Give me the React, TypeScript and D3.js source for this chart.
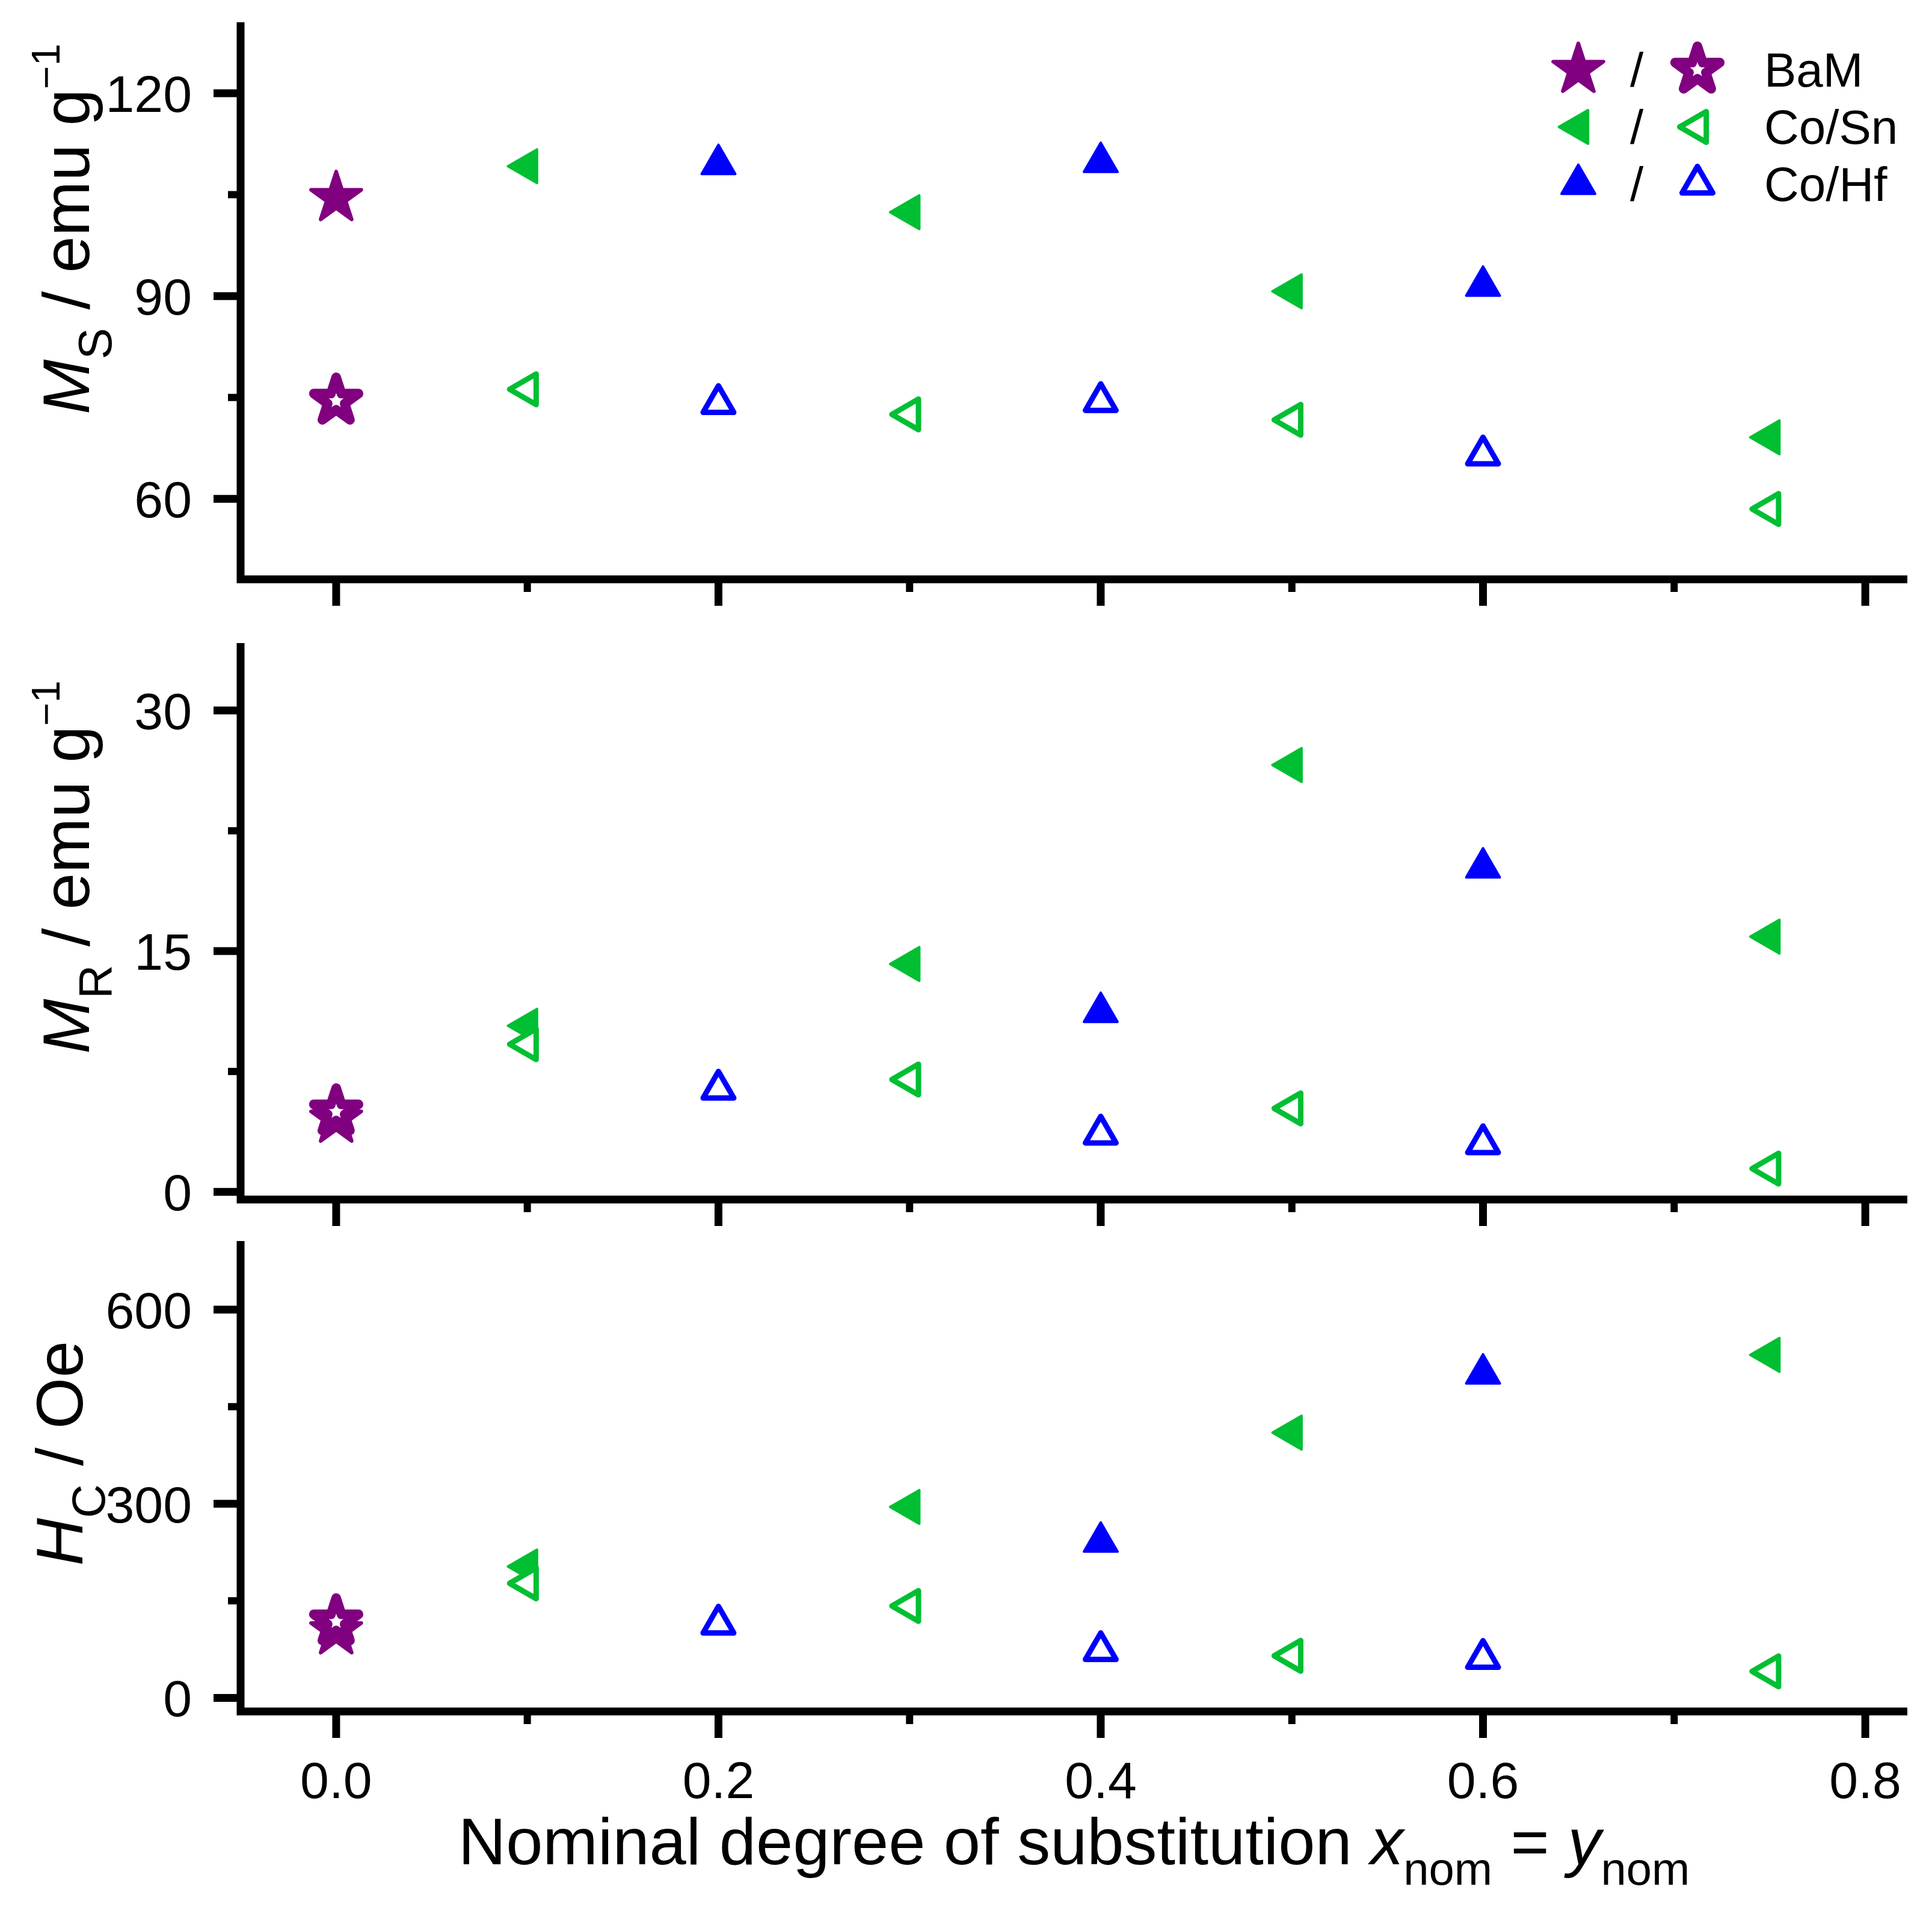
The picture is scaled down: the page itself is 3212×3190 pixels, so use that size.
import React from "react";
import * as d3 from "d3";

// ---------- data ----------
const xBaM = [0.0];
const xCoSn = [0.1, 0.3, 0.5, 0.75];
const xCoHf = [0.2, 0.4, 0.6];

// Saturation magnetisation Ms / emu g^-1
const msBaMFilled = [104.5];
const msBaMOpen = [74.5];
const msCoSnFilled = [109.2, 102.4, 90.7, 69.1];
const msCoSnOpen = [76.2, 72.5, 71.7, 58.5];
const msCoHfFilled = [109.5, 109.8, 91.5];
const msCoHfOpen = [74.1, 74.4, 66.5];

// Remanence Mr / emu g^-1
const mrBaMFilled = [4.5];
const mrBaMOpen = [5.0];
const mrCoSnFilled = [10.35, 14.2, 26.6, 15.9];
const mrCoSnOpen = [9.2, 7.0, 5.2, 1.45];
const mrCoHfFilled: (number | null)[] = [null, 11.2, 20.2];
const mrCoHfOpen = [6.4, 3.6, 3.0];

// Coercivity Hc / Oe
const hcBaMFilled = [103];
const hcBaMOpen = [118];
const hcCoSnFilled = [203, 295, 410, 530];
const hcCoSnOpen = [177, 142, 65, 41];
const hcCoHfFilled: (number | null)[] = [null, 241, 501];
const hcCoHfOpen = [114, 73, 61];

const xDomain = [-0.05, 0.822];
const xMajorTicks = [0, 0.2, 0.4, 0.6, 0.8];
const xMinorTicks = [0.1, 0.3, 0.5, 0.7];

const msDomain = [48.1, 130.5];
const msMajor = [60, 90, 120];
const msMinor = [75, 105];
const mrDomain = [-0.48, 34.2];
const mrMajor = [0, 15, 30];
const mrMinor = [7.5, 22.5];
const hcDomain = [-21, 706];
const hcMajor = [0, 300, 600];
const hcMinor = [150, 450];

const legendLabels = ["BaM", "Co/Sn", "Co/Hf"];

// ---------- styles ----------
const W = 3212;
const H = 3190;
const FONT = "'Liberation Sans', Arial, Helvetica, sans-serif";
const PURPLE = "#800080";
const GREEN = "#00BF33";
const BLUE = "#0000FF";
const AXW = 13;

const xLeft = 400;
const xRight = 3171;
const x = d3.scaleLinear().domain(xDomain).range([xLeft, xRight]);

// ---------- marker paths ----------
function starPath(R: number) {
  const pts: [number, number][] = [];
  for (let i = 0; i < 10; i++) {
    const a = (-90 + i * 36) * (Math.PI / 180);
    const r = i % 2 === 0 ? R : R * 0.382;
    pts.push([r * Math.cos(a), r * Math.sin(a)]);
  }
  return d3.line()(pts) + "Z";
}
function triUp(s: number) {
  const h = (s * Math.sqrt(3)) / 2;
  return `M0,${-(2 * h) / 3}L${s / 2},${h / 3}L${-s / 2},${h / 3}Z`;
}
function triLeft(s: number) {
  const h = (s * Math.sqrt(3)) / 2;
  return `M${-(2 * h) / 3},0L${h / 3},${-s / 2}L${h / 3},${s / 2}Z`;
}

type Kind = "star" | "left" | "up";
function Marker({ kind, filled, color, cx, cy }: { kind: Kind; filled: boolean; color: string; cx: number; cy: number }) {
  let d: string;
  let sw: number;
  if (kind === "star") {
    d = filled ? starPath(44) : starPath(39);
    sw = filled ? 6 : 16;
  } else {
    const s = filled ? 56 : 51;
    d = kind === "up" ? triUp(s) : triLeft(s);
    sw = filled ? 4 : 9;
  }
  return (
    <path
      d={d}
      transform={`translate(${cx},${cy})`}
      fill={filled ? color : "#ffffff"}
      stroke={color}
      strokeWidth={sw}
      strokeLinejoin="round"
    />
  );
}

type PanelProps = {
  top: number;
  bottom: number;
  domain: number[];
  major: number[];
  minor: number[];
  bam: [number[], number[]];
  cosn: [(number | null)[], (number | null)[]];
  cohf: [(number | null)[], (number | null)[]];
  showXLabels: boolean;
  title: React.ReactNode;
};

function Panel(p: PanelProps) {
  const y = d3.scaleLinear().domain(p.domain).range([p.bottom, p.top]);
  const pts = (xs: number[], ys: (number | null)[], kind: Kind, filled: boolean, color: string, key: string) =>
    xs.map((xv, i) =>
      ys[i] == null ? null : (
        <Marker key={key + i} kind={kind} filled={filled} color={color} cx={x(xv)} cy={y(ys[i] as number)} />
      )
    );
  return (
    <g>
      {/* ticks */}
      {p.major.map((t) => (
        <line key={"ym" + t} x1={xLeft - 45} x2={xLeft} y1={y(t)} y2={y(t)} stroke="#000" strokeWidth={AXW} />
      ))}
      {p.minor.map((t) => (
        <line key={"yn" + t} x1={xLeft - 21} x2={xLeft} y1={y(t)} y2={y(t)} stroke="#000" strokeWidth={12} />
      ))}
      {xMajorTicks.map((t) => (
        <line key={"xm" + t} x1={x(t)} x2={x(t)} y1={p.bottom} y2={p.bottom + 44} stroke="#000" strokeWidth={AXW} />
      ))}
      {xMinorTicks.map((t) => (
        <line key={"xn" + t} x1={x(t)} x2={x(t)} y1={p.bottom} y2={p.bottom + 21} stroke="#000" strokeWidth={12} />
      ))}
      {/* axes */}
      <path
        d={`M${xLeft},${p.top}V${p.bottom}H${xRight}`}
        fill="none"
        stroke="#000"
        strokeWidth={AXW}
        strokeLinejoin="miter"
        strokeLinecap="butt"
      />
      {/* tick labels */}
      {p.major.map((t) => (
        <text key={"yl" + t} x={319} y={y(t) + 31} fontSize={86} textAnchor="end" fontFamily={FONT}>
          {t}
        </text>
      ))}
      {p.showXLabels &&
        xMajorTicks.map((t) => (
          <text key={"xl" + t} x={x(t)} y={2989} fontSize={86} textAnchor="middle" fontFamily={FONT}>
            {t.toFixed(1)}
          </text>
        ))}
      {p.title}
      {/* filled markers */}
      {pts(xBaM, p.bam[0], "star", true, PURPLE, "bf")}
      {pts(xCoSn, p.cosn[0], "left", true, GREEN, "sf")}
      {pts(xCoHf, p.cohf[0], "up", true, BLUE, "hf")}
      {/* open markers */}
      {pts(xBaM, p.bam[1], "star", false, PURPLE, "bo")}
      {pts(xCoSn, p.cosn[1], "left", false, GREEN, "so")}
      {pts(xCoHf, p.cohf[1], "up", false, BLUE, "ho")}
    </g>
  );
}

function YTitle({ bx, by, main, sub, unit, sup }: { bx: number; by: number; main: string; sub: string; unit: string; sup?: string }) {
  return (
    <text transform={`translate(${bx},${by}) rotate(-90)`} fontFamily={FONT} fontSize={110} textAnchor="start">
      <tspan fontStyle="italic">{main}</tspan>
      <tspan fontSize={78} dy={37}>
        {sub}
      </tspan>
      <tspan dy={-37}>{unit}</tspan>
      {sup && (
        <tspan fontSize={66} dy={-49}>
          {sup}
        </tspan>
      )}
    </text>
  );
}

export default function App() {
  const legendY = [116, 211, 306];
  const legendKinds: Kind[] = ["star", "left", "up"];
  const legendColors = [PURPLE, GREEN, BLUE];
  return (
    <svg
      width={W}
      height={H}
      viewBox={`0 0 ${W} ${H}`}
      style={{ position: "absolute", left: 0, top: 0, background: "#fff" }}
    >
      <rect width={W} height={H} fill="#fff" />
      <Panel
        top={37}
        bottom={963}
        domain={msDomain}
        major={msMajor}
        minor={msMinor}
        bam={[msBaMFilled, msBaMOpen]}
        cosn={[msCoSnFilled, msCoSnOpen]}
        cohf={[msCoHfFilled, msCoHfOpen]}
        showXLabels={false}
        title={<YTitle bx={148} by={689} main="M" sub="S" unit=" / emu g" sup="−1" />}
      />
      <Panel
        top={1069}
        bottom={1994}
        domain={mrDomain}
        major={mrMajor}
        minor={mrMinor}
        bam={[mrBaMFilled, mrBaMOpen]}
        cosn={[mrCoSnFilled, mrCoSnOpen]}
        cohf={[mrCoHfFilled, mrCoHfOpen]}
        showXLabels={false}
        title={<YTitle bx={148} by={1752} main="M" sub="R" unit=" / emu g" sup="−1" />}
      />
      <Panel
        top={2063}
        bottom={2845}
        domain={hcDomain}
        major={hcMajor}
        minor={hcMinor}
        bam={[hcBaMFilled, hcBaMOpen]}
        cosn={[hcCoSnFilled, hcCoSnOpen]}
        cohf={[hcCoHfFilled, hcCoHfOpen]}
        showXLabels={true}
        title={<YTitle bx={137} by={2603} main="H" sub="C" unit=" / Oe" />}
      />
      {/* x axis title */}
      <text x={(xLeft + xRight) / 2} y={3099} fontSize={110} textAnchor="middle" fontFamily={FONT}>
        <tspan>Nominal degree of substitution </tspan>
        <tspan fontStyle="italic">x</tspan>
        <tspan fontSize={76} dy={34}>
          nom
        </tspan>
        <tspan dy={-34}> = </tspan>
        <tspan fontStyle="italic">y</tspan>
        <tspan fontSize={76} dy={34}>
          nom
        </tspan>
      </text>
      {/* legend */}
      {legendLabels.map((lab, i) => (
        <g key={lab}>
          <Marker kind={legendKinds[i]} filled={true} color={legendColors[i]} cx={2624} cy={legendY[i]} />
          <text x={2721} y={legendY[i] + 28} fontSize={80} textAnchor="middle" fontFamily={FONT}>
            /
          </text>
          <Marker kind={legendKinds[i]} filled={false} color={legendColors[i]} cx={2822} cy={legendY[i]} />
          <text x={2933} y={legendY[i] + 28} fontSize={80} fontFamily={FONT}>
            {lab}
          </text>
        </g>
      ))}
    </svg>
  );
}
